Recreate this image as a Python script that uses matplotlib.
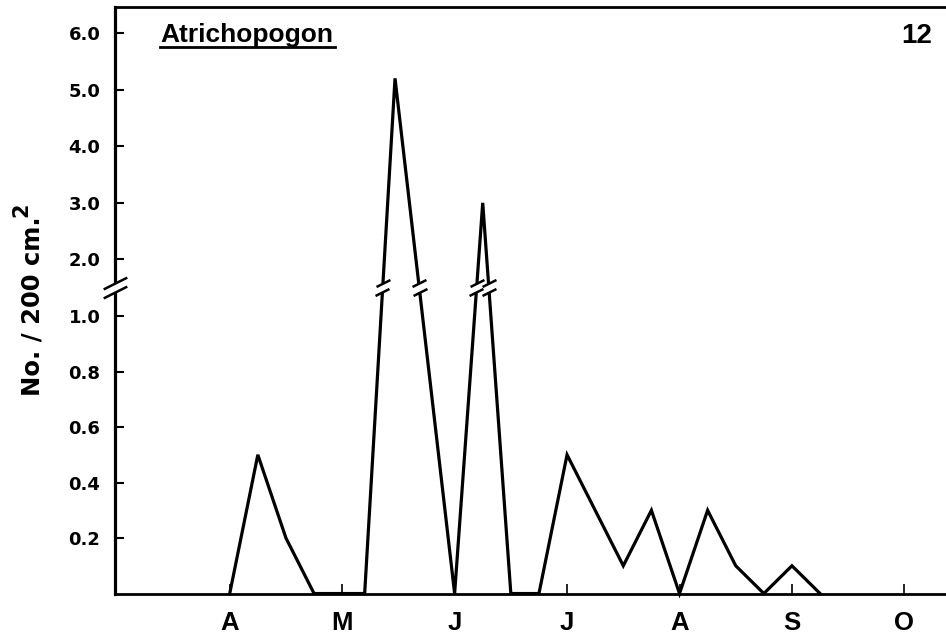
import numpy as np
import matplotlib
matplotlib.use("Agg")
import matplotlib.pyplot as plt
from matplotlib.path import Path

# ---- data (month number: 4 = April, 5 = May, ...) ----
x_month = [4.0, 4.25, 4.5, 4.75, 5.2, 5.47, 6.0, 6.25, 6.5, 6.75, 7.0,
           7.5, 7.75, 8.0, 8.25, 8.5, 8.75, 9.0, 9.25]
density = [0.0, 0.5, 0.2, 0.0, 0.0, 5.2, 0.0, 3.0, 0.0, 0.0, 0.5,
           0.1, 0.3, 0.0, 0.3, 0.1, 0.0, 0.1, 0.0]
month_ticks = [4, 5, 6, 7, 8, 9, 10]
month_labels = ["A", "M", "J", "J", "A", "S", "O"]
y_ticks = [0.2, 0.4, 0.6, 0.8, 1.0, 2.0, 3.0, 4.0, 5.0, 6.0]
y_labels = ["0.2", "0.4", "0.6", "0.8", "1.0", "2.0", "3.0", "4.0", "5.0", "6.0"]
title = "Atrichopogon"
panel = "12"
y_break = 1.5

# ---- broken (compressed above 1.0) y scale ----
K = 0.20396


def fwd(v):
    v = np.asarray(v, dtype=float)
    return np.where(v <= 1.0, v, 1.0 + (v - 1.0) * K)


def inv(t):
    t = np.asarray(t, dtype=float)
    return np.where(t <= 1.0, t, 1.0 + (t - 1.0) / K)


fig = plt.figure(figsize=(9.46, 6.38), dpi=100)
ax = fig.add_axes([0.1216, 0.0697, 0.8784, 0.9193])
ax.set_yscale("function", functions=(fwd, inv))
ax.set_ylim(0, 6.46)
ax.set_xlim(2.98, 10.37)

ax.plot(x_month, density, color="black", lw=2.3, solid_joinstyle="miter",
        zorder=3, clip_on=False)

# spines
ax.spines["right"].set_visible(False)
ax.spines["left"].set_linewidth(2.3)
ax.spines["bottom"].set_linewidth(2.0)
ax.spines["top"].set_linewidth(2.0)

# ticks
ax.set_xticks(month_ticks)
ax.set_xticklabels(month_labels, fontfamily="Liberation Sans",
                   fontweight="bold", fontsize=18.5)
ax.tick_params(axis="x", direction="in", length=7, width=1.2, pad=12.5)
ax.set_yticks(y_ticks)
ax.set_yticklabels(y_labels, fontfamily="DejaVu Sans",
                   fontweight="bold", fontsize=13)
ax.yaxis.set_minor_locator(matplotlib.ticker.NullLocator())
ax.tick_params(axis="y", direction="in", length=6.5, width=1.5, pad=10.5)

# ---- break markers ----
cap = Path([(-1.0, -0.5), (1.0, 0.5)], [Path.MOVETO, Path.LINETO])
half_gap = 4.5 / 277.5  # in transformed units
tb = float(fwd(y_break))
t_lo, t_hi = tb - half_gap, tb + half_gap
v_lo, v_hi = float(inv(t_lo)), float(inv(t_hi))

# on the y axis
ax.plot([2.98, 2.98], [v_lo, v_hi], color="white", lw=4, zorder=4,
        clip_on=False, solid_capstyle="butt")
ax.plot([2.98, 2.98], [v_lo, v_hi], ls="none", marker=cap, ms=17,
        mew=1.8, color="black", zorder=5, clip_on=False)

# on the data line
tvals = fwd(density)
for i in range(len(x_month) - 1):
    t0, t1 = tvals[i], tvals[i + 1]
    if (t0 - tb) * (t1 - tb) < 0:
        x0, x1 = x_month[i], x_month[i + 1]
        xl = x0 + (t_lo - t0) / (t1 - t0) * (x1 - x0)
        xh = x0 + (t_hi - t0) / (t1 - t0) * (x1 - x0)
        ax.plot([xl, xh], [v_lo, v_hi], color="white", lw=5, zorder=4,
                solid_capstyle="butt")
        ax.plot([xl, xh], [v_lo, v_hi], ls="none", marker=cap, ms=10,
                mew=1.8, color="black", zorder=5)

# ---- texts ----
ax.text(0.0542, 0.9403, title, transform=ax.transAxes,
        fontfamily="Liberation Sans", fontweight="bold", fontsize=19,
        ha="left", va="baseline")
ax.plot([0.0542, 0.2647], [0.9318, 0.9318], transform=ax.transAxes,
        color="black", lw=2.0, clip_on=False)
ax.text(0.983, 0.9386, panel, transform=ax.transAxes,
        fontfamily="Liberation Sans", fontweight="bold", fontsize=20,
        ha="right", va="baseline")

fig.text(32 / 946, 1 - 306 / 638, "No. / 200 cm.", rotation=90,
         fontfamily="DejaVu Sans", fontweight="bold", fontsize=17.5,
         ha="center", va="center")
fig.text(21 / 946, 1 - 210 / 638, "2", rotation=90,
         fontfamily="DejaVu Sans", fontweight="bold", fontsize=15,
         ha="center", va="center")

fig.savefig("out.png", dpi=100, facecolor="white")
